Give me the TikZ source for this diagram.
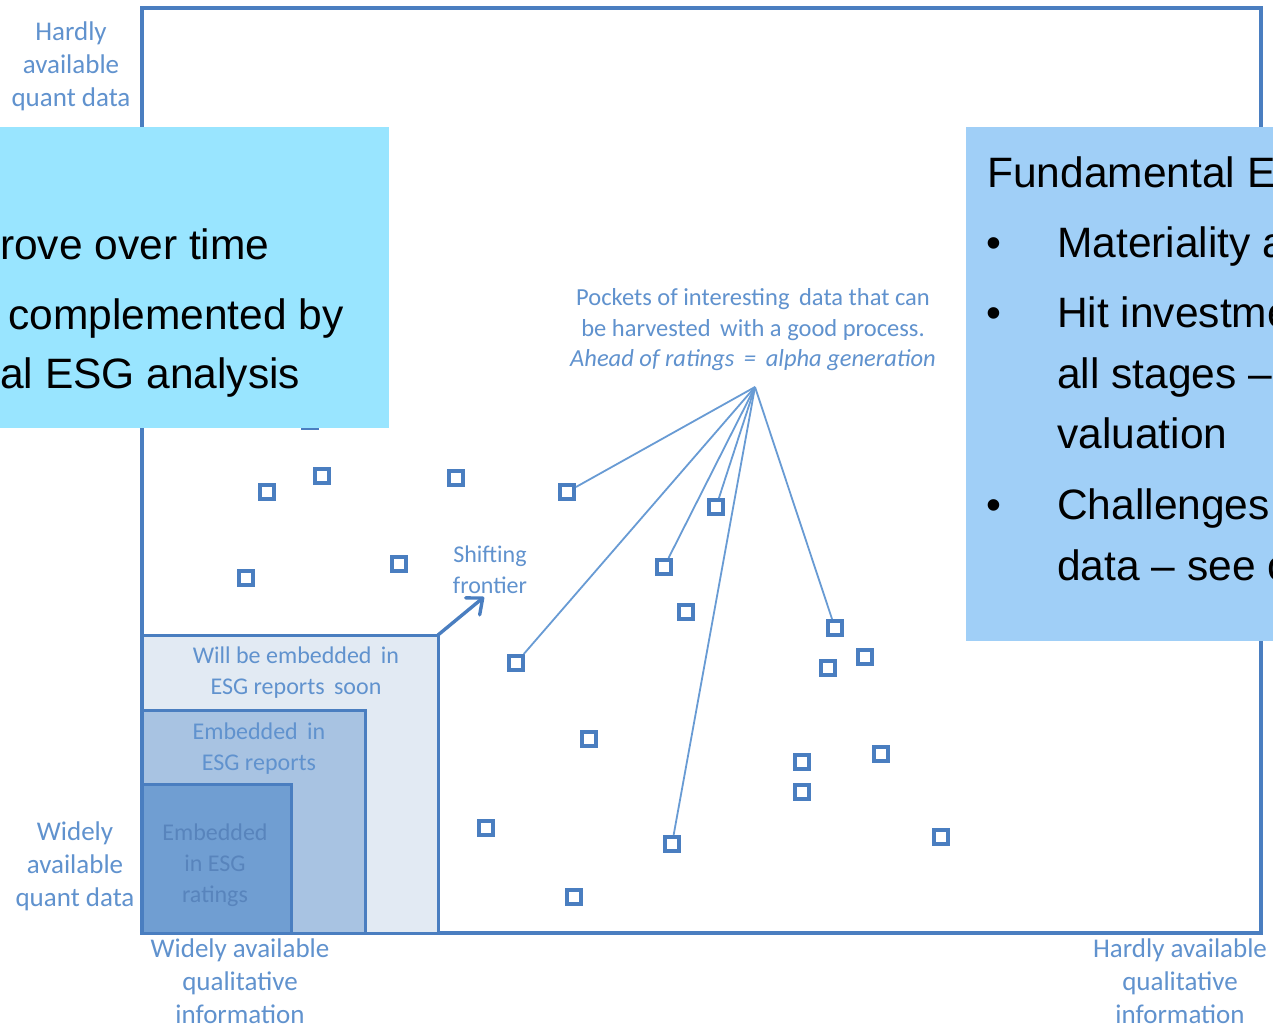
\documentclass[tikz,border=0pt]{standalone}
\usepackage{fontspec}
\setmainfont{Liberation Sans}
\newfontfamily\lblfont{Carlito}
\usetikzlibrary{arrows.meta}

\definecolor{frameblue}{RGB}{74,126,192}
\definecolor{lblblue}{RGB}{96,146,206}
\definecolor{leaderblue}{RGB}{104,155,212}
\definecolor{soonfill}{RGB}{226,234,243}
\definecolor{reportfill}{RGB}{168,195,226}
\definecolor{ratingfill}{RGB}{112,158,210}
\definecolor{ratingtext}{RGB}{88,132,188}
\definecolor{cyanbox}{RGB}{153,229,255}
\definecolor{skybox}{RGB}{160,207,247}

\tikzset{
  axislbl/.style={font=\lblfont\fontsize{27}{33}\selectfont, text=lblblue, align=center, inner sep=0pt},
  boxlbl/.style={font=\lblfont\fontsize{24}{31}\selectfont, text=lblblue, align=center, inner sep=0pt},
  zone/.style={draw=frameblue, line width=3pt, anchor=south west, inner sep=0pt, outer sep=0pt},
  datum/.style={draw=frameblue, fill=white, line width=4pt, minimum size=14pt, inner sep=0pt},
  leader/.style={draw=leaderblue, line width=1.8pt},
  panel/.style={inner sep=0pt, outer sep=0pt, anchor=north west},
  paneltext/.style={font=\fontsize{42.5}{50}\selectfont, text=black, inner sep=0pt, anchor=base west},
}

\begin{document}
\begin{tikzpicture}[x=1pt,y=-1pt]
\useasboundingbox (0,0) rectangle (1273,1028);
\clip (0,0) rectangle (1273,1028);
\fill[white] (0,0) rectangle (1273,1028);

% plot frame
\draw[frameblue, line width=3.2pt] (142,8) rectangle (1261,933);

% nested zones in the lower left corner
\node[zone, fill=soonfill, minimum width=296pt, minimum height=298pt] (soon) at (142,933) {};
\node[zone, fill=reportfill, minimum width=223pt, minimum height=223pt] (reports) at (142,933) {};
\node[zone, fill=ratingfill, minimum width=149pt, minimum height=149pt] (ratings) at (142,933) {};

\node[boxlbl] (soonlbl) at (296,673) {Will be embedded\, in\\ESG reports\, soon};
\node[boxlbl] (reportslbl) at (259,749) {Embedded\, in\\ESG reports};
\node[boxlbl, text=ratingtext] (ratingslbl) at (215,865) {Embedded\\in ESG\\ratings};

% shifting frontier
\coordinate (frontiertip) at (484,597);
\draw[frameblue, line width=3.4pt, line cap=round,
      -{Straight Barb[length=13pt,width=22pt,line cap=round,line join=round]}]
  (soon.north east) -- (frontiertip);
\node[boxlbl] (frontierlbl) at (490,570) {Shifting\\frontier};

% axis labels
\node[axislbl] (ytop) at (71,66) {Hardly\\available\\quant data};
\node[axislbl] (ybottom) at (75,866) {Widely\\available\\quant data};
\node[axislbl] (xleft) at (240,981) {Widely available\\qualitative\\information};
\node[axislbl] (xright) at (1180,981) {Hardly available\\qualitative\\information};

% data points
\node[datum] (d1) at (310,421) {};
\node[datum] (d2) at (267,492) {};
\node[datum] (d3) at (322,476) {};
\node[datum] (d4) at (456,478) {};
\node[datum] (d5) at (567,492) {};
\node[datum] (d6) at (246,578) {};
\node[datum] (d7) at (399,564) {};
\node[datum] (d8) at (716,507) {};
\node[datum] (d9) at (664,567) {};
\node[datum] (d10) at (686,612) {};
\node[datum] (d11) at (835,628) {};
\node[datum] (d12) at (828,668) {};
\node[datum] (d13) at (865,657) {};
\node[datum] (d14) at (516,663) {};
\node[datum] (d15) at (589,739) {};
\node[datum] (d16) at (802,762) {};
\node[datum] (d17) at (881,754) {};
\node[datum] (d18) at (802,792) {};
\node[datum] (d19) at (486,828) {};
\node[datum] (d20) at (672,844) {};
\node[datum] (d21) at (941,837) {};
\node[datum] (d22) at (574,897) {};

% callout with leader lines
\node[boxlbl, font=\lblfont\fontsize{24.5}{30.5}\selectfont] (pockets) at (753,330)
  {Pockets of interesting\, data that can\\be harvested\, with a good process.\\\itshape Ahead of ratings\, =\, alpha generation};
\coordinate (hub) at (755,387);
\foreach \d in {d5,d14,d9,d8,d20,d11}
  \draw[leader] (hub) -- (\d);

% overlay panels
\node[panel, fill=cyanbox, minimum width=389pt, minimum height=301pt] (leftpanel) at (0,127) {};
\node[paneltext] (l1) at (0,259) {rove over time};
\node[paneltext] (l2) at (8,329) {complemented by};
\node[paneltext] (l3) at (0,388) {al ESG analysis};

\node[panel, fill=skybox, minimum width=320pt, minimum height=514pt] (rightpanel) at (966,127) {};
\node[paneltext] (r0) at (987,187) {Fundamental E};
\node[paneltext] (b1) at (986,257) {•};
\node[paneltext] (r1) at (1057,257) {Materiality a};
\node[paneltext] (b2) at (986,327) {•};
\node[paneltext] (r2) at (1057,327) {Hit investme};
\node[paneltext] (r3) at (1057,388) {all stages –};
\node[paneltext] (r4) at (1057,448) {valuation};
\node[paneltext] (b3) at (986,519) {•};
\node[paneltext] (r5) at (1057,519) {Challenges};
\node[paneltext] (r6) at (1057,580) {data – see c};
\end{tikzpicture}
\end{document}
